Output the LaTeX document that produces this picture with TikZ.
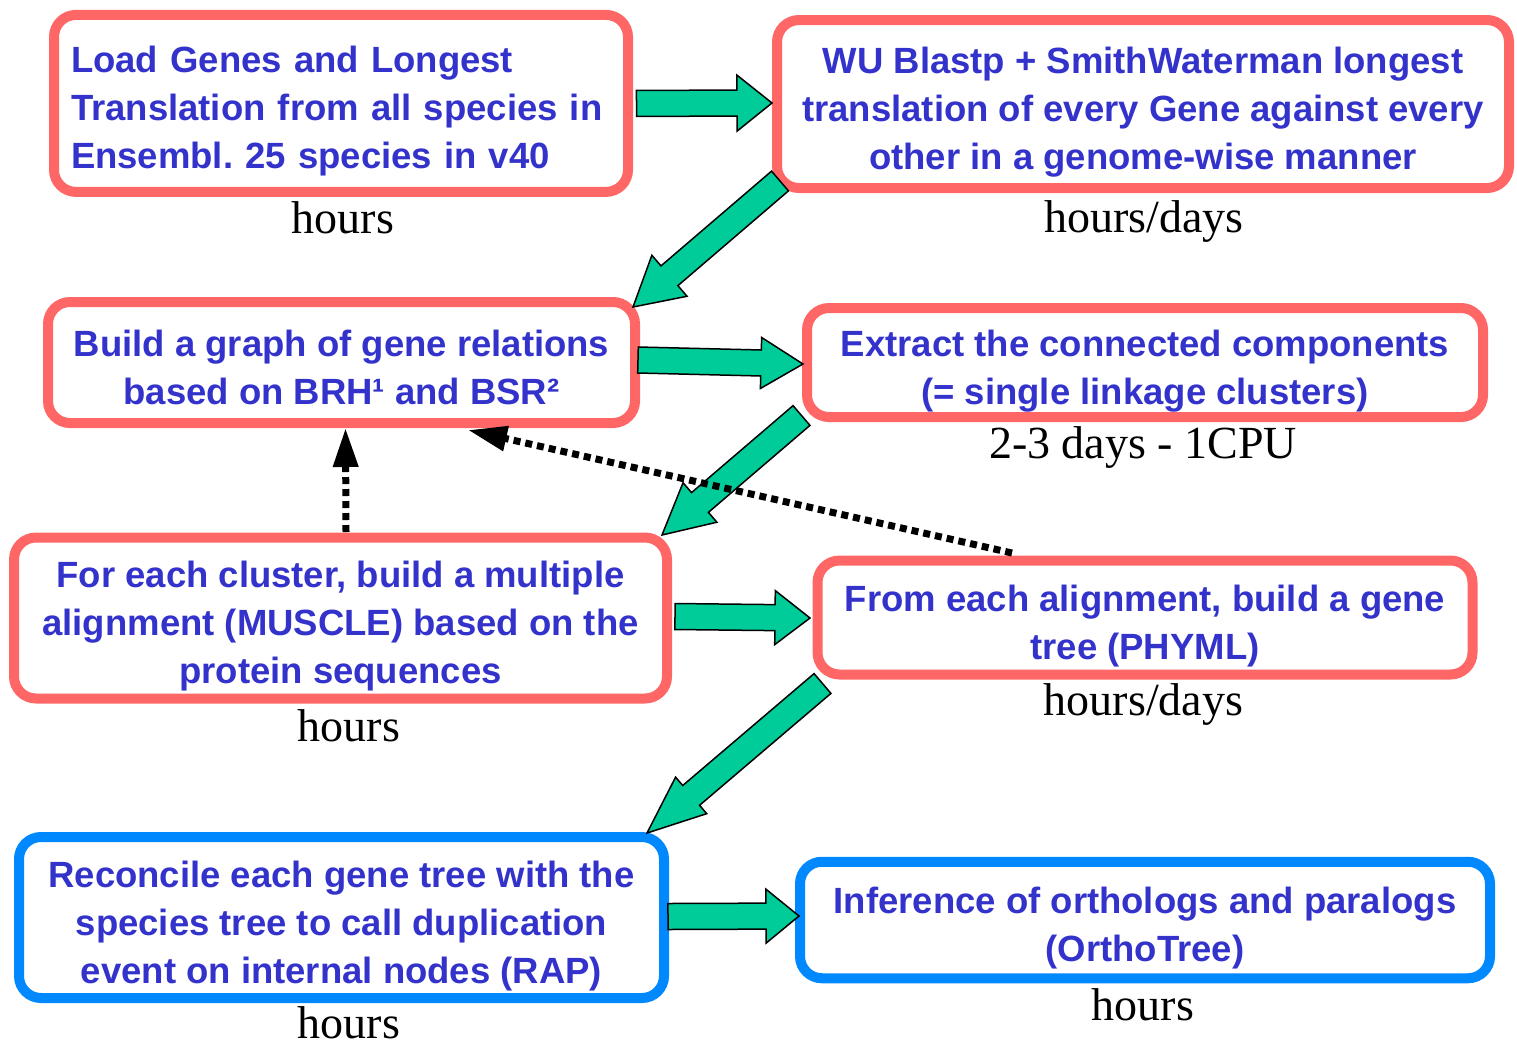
\documentclass[tikz,border=0pt]{standalone}
\usepackage{fontspec}
\setmainfont{Liberation Serif}
\newfontfamily\boxfont{Liberation Sans}
\usetikzlibrary{calc,arrows.meta}
\definecolor{boxred}{HTML}{FF6666}
\definecolor{boxblue}{HTML}{0088FF}
\definecolor{txtblue}{HTML}{3333CC}
\definecolor{arrgreen}{HTML}{00CC99}
\newcommand\ftop{\rule{0pt}{45pt}}
\newcommand\fbot{\rule[-10pt]{0pt}{10pt}}
\frenchspacing
\tikzset{
  box/.style={draw=boxred, line width=10pt, rounded corners=22pt, outer sep=0pt, inner sep=0pt,
    font=\boxfont\bfseries\fontsize{36.5}{48}\selectfont, text=txtblue, align=center},
  bluebox/.style={box, draw=boxblue},
  timelabel/.style={anchor=base, inner sep=0pt, font=\fontsize{46}{50}\selectfont},
  blockstyle/.style={fill=arrgreen, draw=black, line width=1.5pt, line join=miter},
  dotarrow/.style={line width=7pt, dash pattern=on 7pt off 5pt, -{Triangle[length=39pt,width=24pt]}},
}
\newcommand\blockarrow[4]{%
  \coordinate (bah) at ($#2!#3pt!#1$);
  \draw[blockstyle] ($#1!13pt!90:#2$) -- ($(bah)!13pt!90:#2$) -- ($(bah)!#4pt!90:#2$) -- #2
    -- ($(bah)!#4pt!-90:#2$) -- ($(bah)!13pt!-90:#2$) -- ($#1!13pt!-90:#2$) -- cycle;}
\begin{document}
\begin{tikzpicture}[x=1pt,y=-1pt]
\useasboundingbox (0,0) rectangle (1517,1045);
% boxes
\node[box, minimum width=574pt, minimum height=177pt, text width=540pt, align=left] (n1) at (341,103.4)
  {\ftop Load Genes and Longest\\Translation from all species in\\Ensembl. 25 species in v40\fbot};
\node[box, minimum width=732pt, minimum height=168pt] (n2) at (1143,104)
  {\ftop WU Blastp + SmithWaterman longest\\translation of every Gene against every\\other in a genome-wise manner\fbot};
\node[box, minimum width=587pt, minimum height=121pt] (n3) at (341.5,362.5)
  {\ftop Build a graph of gene relations\\based on BRH¹ and BSR²\fbot};
\node[box, minimum width=676pt, minimum height=109pt] (n4) at (1145,362.5)
  {\ftop Extract the connected components\\(= single linkage clusters)\fbot};
\node[box, minimum width=653pt, minimum height=161pt] (n5) at (340.5,618)
  {\ftop For each cluster, build a multiple\\alignment (MUSCLE) based on the\\protein sequences\fbot};
\node[box, minimum width=655pt, minimum height=114pt] (n6) at (1145,617.5)
  {\ftop From each alignment, build a gene\\tree (PHYML)\fbot};
\node[bluebox, minimum width=645pt, minimum height=161pt] (n7) at (341.5,917.5)
  {\ftop Reconcile each gene tree with the\\species tree to call duplication\\event on internal nodes (RAP)\fbot};
\node[bluebox, minimum width=690pt, minimum height=116.5pt] (n8) at (1145,920)
  {\ftop Inference of orthologs and paralogs\\(OrthoTree)\fbot};
% time labels
\node[timelabel] (t1) at (343,233) {hours};
\node[timelabel] (t2) at (1144,232) {hours/days};
\node[timelabel] (t4) at (1143,458) {2-3 days - 1CPU};
\node[timelabel] (t5) at (349,741) {hours};
\node[timelabel] (t6) at (1143.5,715) {hours/days};
\node[timelabel] (t7) at (349,1038) {hours};
\node[timelabel] (t8) at (1143,1020) {hours};
% block arrows
\coordinate (a1s) at ($(n1.east)+(8.5,0)$);      \coordinate (a1e) at ($(n2.west)+(-5,-1)$);
\coordinate (a2s) at ($(n2.south west)+(3,-7)$);  \coordinate (a2e) at ($(n3.north east)+(-2,5)$);
\coordinate (a3s) at ($(n3.east)+(3,-2.5)$);      \coordinate (a3e) at ($(n4.west)+(-4,1.5)$);
\coordinate (a4s) at ($(n4.south west)+(-5.5,-1.5)$); \coordinate (a4e) at ($(n5.north east)+(-5,-2.5)$);
\coordinate (a5s) at ($(n5.east)+(8,-1.5)$);      \coordinate (a5e) at ($(n6.west)+(-7.5,0.5)$);
\coordinate (a6s) at ($(n6.south west)+(5,9)$);   \coordinate (a6e) at ($(n7.north east)+(-17,-4)$);
\coordinate (a7s) at ($(n7.east)+(4,-1)$);        \coordinate (a7e) at ($(n8.west)+(-1,-4)$);
\blockarrow{(a1s)}{(a1e)}{35}{28}
\blockarrow{(a2s)}{(a2e)}{48}{27}
\blockarrow{(a3s)}{(a3e)}{42}{25.5}
\blockarrow{(a4s)}{(a4e)}{50}{26}
\blockarrow{(a5s)}{(a5e)}{35}{27}
\blockarrow{(a6s)}{(a6e)}{58}{24}
\blockarrow{(a7s)}{(a7e)}{33}{27}
% dotted arrows
\coordinate (d1s) at ($(n5.north)+(5.5,-5.5)$);  \coordinate (d1e) at ($(n3.south)+(4,5)$);
\coordinate (d2s) at ($(n6.north)+(-133,-7.5)$); \coordinate (d2e) at ($(n3.south)+(126.5,7)$);
\draw[dotarrow] (d1s) -- (d1e);
\draw[dotarrow] (d2s) -- (d2e);
\end{tikzpicture}
\end{document}
